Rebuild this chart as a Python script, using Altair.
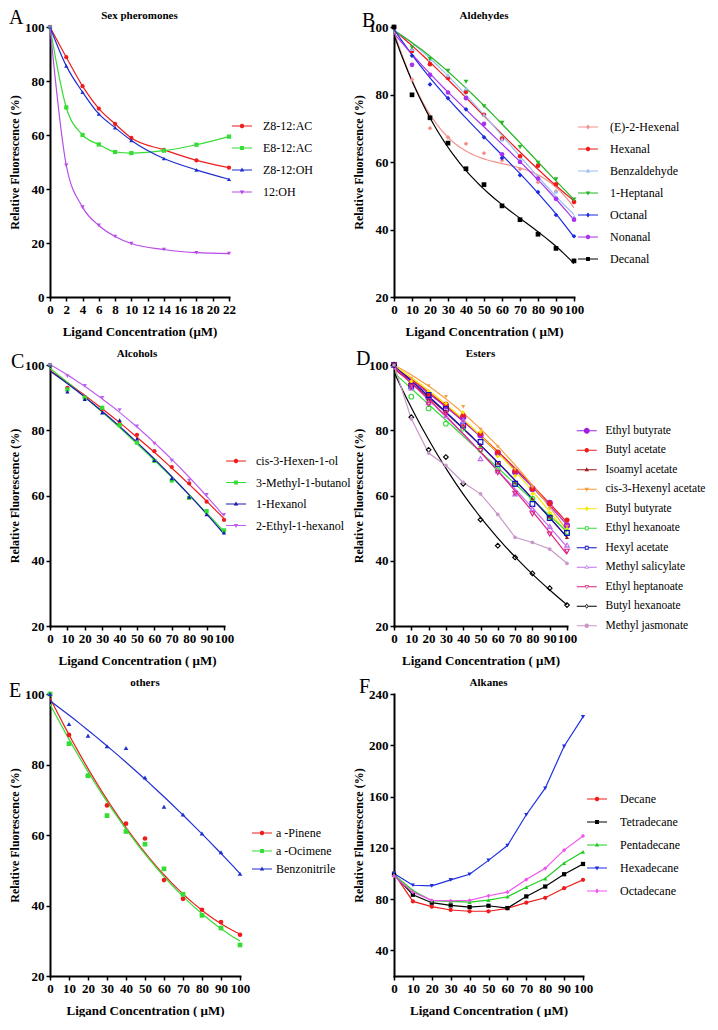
import math
import altair as alt
import pandas as pd

FONT = "Liberation Serif"

# ---------------- data ----------------
X10 = [0, 10, 20, 30, 40, 50, 60, 70, 80, 90, 100]

# A  Sex pheromones
A_X = [0, 2, 4, 6, 8, 10, 14, 18, 22]
A_SERIES = ["Z8-12:AC", "E8-12:AC", "Z8-12:OH", "12:OH"]
A_Z8AC = [100, 88.8, 78.1, 69.8, 64.1, 58.9, 54.5, 50.6, 47.9]
A_E8AC = [100, 70.2, 60.0, 56.5, 53.7, 53.3, 54.2, 56.4, 59.4]
A_Z8OH = [100, 85.6, 75.9, 67.8, 62.7, 58.0, 51.3, 47.1, 43.6]
A_12OH = [100, 48.8, 33.3, 26.5, 22.4, 19.8, 17.6, 16.4, 16.1]
A_VALUES = [A_Z8AC, A_E8AC, A_Z8OH, A_12OH]

# B  Aldehydes
B_SERIES = ["(E)-2-Hexenal", "Hexanal", "Benzaldehyde", "1-Heptanal", "Octanal", "Nonanal", "Decanal"]
B_E2HEXENAL = [100, 84.4, 70.0, 67.3, 65.4, 62.6, 60.5, 57.9, 54.0, 51.3, 48.0]
B_HEXANAL = [100, 92.9, 89.0, 84.9, 80.8, 74.0, 66.9, 61.7, 58.9, 53.4, 48.2]
B_BENZALDEHYDE = [100, 93.5, 90.5, 85.7, 81.8, 74.0, 66.7, 60.7, 55.6, 51.3, 43.8]
B_HEPTANAL = [100, 93.9, 90.5, 87.0, 83.8, 76.5, 71.6, 64.4, 59.8, 54.9, 48.9]
B_OCTANAL = [100, 91.5, 83.0, 78.9, 75.6, 67.3, 61.2, 56.1, 51.1, 44.3, 38.0]
B_NONANAL = [100, 88.8, 85.8, 80.6, 78.9, 71.3, 62.3, 60.0, 55.1, 49.1, 42.9]
B_DECANAL = [100, 79.9, 73.1, 65.6, 58.0, 53.3, 47.0, 42.9, 38.6, 34.4, 30.7]
B_VALUES = [B_E2HEXENAL, B_HEXANAL, B_BENZALDEHYDE, B_HEPTANAL, B_OCTANAL, B_NONANAL, B_DECANAL]

# C  Alcohols
C_SERIES = ["cis-3-Hexen-1-ol", "3-Methyl-1-butanol", " 1-Hexanol", "2-Ethyl-1-hexanol"]
C_HEXENOL = [100, 93.0, 90.0, 86.5, 82.0, 78.6, 73.6, 68.7, 63.7, 58.1, 52.5]
C_METHYLBUTANOL = [100, 92.5, 90.0, 86.9, 81.6, 76.2, 70.6, 64.6, 59.3, 55.2, 49.3]
C_HEXANOL = [100, 91.8, 89.5, 85.4, 83.1, 77.4, 70.8, 65.2, 59.6, 54.2, 48.6]
C_ETHYLHEXANOL = [100, 96.6, 93.6, 89.9, 86.2, 81.2, 75.9, 70.7, 64.6, 60.2, 54.1]
C_VALUES = [C_HEXENOL, C_METHYLBUTANOL, C_HEXANOL, C_ETHYLHEXANOL]

# D  Esters
D_SERIES = ["Ethyl butyrate", "Butyl acetate", "Isoamyl acetate", " cis-3-Hexenyl acetate",
            "Butyl butyrate", "Ethyl hexanoate", "Hexyl acetate", "Methyl salicylate",
            "Ethyl heptanoate", "Butyl hexanoate", "Methyl jasmonate"]
D_ETHYL_BUTYRATE = [100, 94.0, 90.0, 87.5, 84.0, 78.5, 73.0, 67.2, 62.0, 57.7, 50.8]
D_BUTYL_ACETATE = [100, 94.5, 91.0, 88.0, 84.6, 79.0, 73.3, 67.5, 62.1, 57.6, 52.5]
D_ISOAMYL_ACETATE = [100, 92.8, 89.5, 86.0, 81.5, 75.5, 70.0, 64.0, 59.0, 53.5, 47.2]
D_HEXENYL_ACETATE = [100, 95.9, 93.6, 90.3, 87.2, 80.2, 74.9, 68.0, 62.5, 56.0, 50.5]
D_BUTYL_BUTYRATE = [100, 95.0, 92.0, 88.2, 85.5, 79.5, 72.0, 66.0, 60.5, 54.7, 49.7]
D_ETHYL_HEXANOATE = [100, 90.3, 86.7, 82.0, 80.5, 74.0, 68.2, 63.5, 59.0, 53.5, 48.8]
D_HEXYL_ACETATE = [100, 93.5, 90.8, 86.5, 81.5, 76.4, 69.7, 63.6, 57.4, 53.1, 48.5]
D_METHYL_SALICYLATE = [100, 93.0, 88.5, 84.5, 83.0, 71.3, 67.5, 60.5, 56.0, 50.5, 44.8]
D_ETHYL_HEPTANOATE = [100, 93.5, 88.0, 85.1, 81.0, 73.8, 67.0, 60.7, 54.4, 48.2, 42.9]
D_BUTYL_HEXANOATE = [100, 84.0, 74.0, 71.8, 63.6, 52.6, 44.6, 41.0, 36.1, 31.6, 26.4]
D_METHYL_JASMONATE = [100, 83.5, 73.0, 69.2, 64.0, 60.5, 54.2, 47.2, 45.6, 43.6, 39.2]
D_VALUES = [D_ETHYL_BUTYRATE, D_BUTYL_ACETATE, D_ISOAMYL_ACETATE, D_HEXENYL_ACETATE,
            D_BUTYL_BUTYRATE, D_ETHYL_HEXANOATE, D_HEXYL_ACETATE, D_METHYL_SALICYLATE,
            D_ETHYL_HEPTANOATE, D_BUTYL_HEXANOATE, D_METHYL_JASMONATE]

# E  others
E_SERIES = ["a  -Pinene", "a  -Ocimene", "Benzonitrile"]
E_PINENE = [100, 88.4, 76.8, 68.4, 63.2, 59.0, 47.2, 41.9, 38.8, 35.3, 31.7]
E_OCIMENE = [100, 85.9, 76.8, 65.5, 61.0, 57.4, 50.4, 43.2, 37.2, 33.6, 28.8]
E_BENZONITRILE = [100, 91.5, 88.2, 85.2, 84.7, 76.3, 68.0, 65.8, 60.4, 55.1, 49.0]
E_VALUES = [E_PINENE, E_OCIMENE, E_BENZONITRILE]

# F  Alkanes
F_SERIES = ["Decane", "Tetradecane", "Pentadecane", "Hexadecane", "Octadecane"]
F_DECANE = [100, 78.2, 74.1, 71.5, 70.5, 70.5, 72.8, 77.2, 81.0, 88.5, 95.0]
F_TETRADECANE = [99, 83.4, 77.2, 75.1, 73.8, 74.8, 73.0, 82.1, 89.8, 99.4, 107.4]
F_PENTADECANE = [99, 86.7, 78.7, 78.2, 77.7, 79.2, 81.8, 89.3, 96.0, 108.1, 116.9]
F_HEXADECANE = [100, 90.8, 90.3, 95.0, 99.4, 110.2, 121.8, 145.8, 166.5, 199.2, 222.2]
F_OCTADECANE = [98, 85.4, 79.0, 78.7, 79.0, 82.6, 85.4, 95.2, 104.0, 118.2, 129.3]
F_VALUES = [F_DECANE, F_TETRADECANE, F_PENTADECANE, F_HEXADECANE, F_OCTADECANE]

# ---------------- styles ----------------
RED, GREEN, BLUE, BLACK = "#ee1c1c", "#33dd33", "#1f2fd0", "#000000"

A_STYLE = dict(colors=[RED, GREEN, BLUE, "#b84ae8"],
               shapes=["circle", "square", "triangle-up", "triangle-down"],
               hollow=[False] * 4, fits=["mono"] * 4, sizes=[18] * 4)
B_STYLE = dict(colors=["#f4908c", RED, "#9cc0f0", "#22b822", "#1a2be0", "#a733ee", BLACK],
               shapes=["diamond", "circle", "triangle-up", "triangle-down", "diamond", "circle", "square"],
               hollow=[False] * 7, fits=["p3"] * 7, sizes=[22] * 7)
C_STYLE = dict(colors=[RED, GREEN, "#1a1aa8", "#c060f0"],
               shapes=["circle", "square", "triangle-up", "triangle-down"],
               hollow=[False] * 4, fits=["p2"] * 4, sizes=[18] * 4)
D_STYLE = dict(colors=["#a020e0", RED, "#a01818", "#f5a040", "#f5e800", GREEN, "#1010c0",
                       "#c070f0", "#e0207f", BLACK, "#c898c8"],
               shapes=["circle", "circle", "triangle-up", "triangle-down", "diamond", "circle",
                       "square", "triangle-up", "triangle-down", "diamond", "circle"],
               hollow=[False, False, False, False, False, True, True, True, True, True, False],
               fits=["p2"] * 9 + ["p3", "seg"],
               sizes=[40, 26, 18, 16, 18, 22, 22, 22, 22, 22, 14])
E_STYLE = dict(colors=[RED, GREEN, BLUE],
               shapes=["circle", "square", "triangle-up"],
               hollow=[False] * 3, fits=["p2"] * 3, sizes=[22] * 3)
F_STYLE = dict(colors=[RED, BLACK, "#22cc22", "#1f2fe0", "#ee55ee"],
               shapes=["circle", "square", "triangle-up", "triangle-down", "diamond"],
               hollow=[False] * 5, fits=["seg"] * 5, sizes=[18] * 5)


# ---------------- legend glyphs (line + marker) ----------------
def _poly(pts, positive=True):
    n = len(pts)
    a = sum(pts[i][0] * pts[(i + 1) % n][1] - pts[(i + 1) % n][0] * pts[i][1] for i in range(n))
    if (a > 0) != positive:
        pts = pts[::-1]
    return "M" + "L".join(f"{x:.3f},{y:.3f}" for x, y in pts) + "Z"


def _outline(kind, r):
    if kind == "circle":
        return [(r * math.cos(2 * math.pi * k / 14), r * math.sin(2 * math.pi * k / 14)) for k in range(14)]
    if kind == "square":
        s = 0.85 * r
        return [(-s, -s), (s, -s), (s, s), (-s, s)]
    if kind == "triangle-up":
        return [(0, -1.1 * r), (r, 0.7 * r), (-r, 0.7 * r)]
    if kind == "triangle-down":
        return [(0, 1.1 * r), (r, -0.7 * r), (-r, -0.7 * r)]
    return [(0, -1.15 * r), (0.85 * r, 0), (0, 1.15 * r), (-0.85 * r, 0)]


HALF = {"circle": 1.0, "square": 0.85, "triangle-up": 0.611, "triangle-down": 0.611, "diamond": 0.85}


def glyph(kind, hollow, r=0.45, t=0.2, w=0.12, L=2.0):
    outer = _outline(kind, r)
    if not hollow:
        return _poly([(-L, -w), (L, -w), (L, w), (-L, w)]) + _poly(outer)
    k = (r - t) / r
    inner = [(x * k, y * k) for x, y in outer]
    g = HALF[kind] * r * (1 - 0.5 * (1 - k))
    return (_poly([(-L, -w), (-g, -w), (-g, w), (-L, w)]) + _poly([(g, -w), (L, -w), (L, w), (g, w)])
            + _poly(outer) + _poly(inner, positive=False))


# ---------------- panel builder ----------------
def panel(letter, title, xs, series, values, style, xdom, xticks, ydom, yticks, xtitle,
          width, height, leg, letter_pos):
    rows = [{"x": x, "y": v, "s": s} for s, vals in zip(series, values) for x, v in zip(xs, vals)]
    df = pd.DataFrame(rows)
    X = alt.X("x:Q", scale=alt.Scale(domain=xdom, nice=False, zero=False),
              axis=alt.Axis(values=xticks, title=xtitle, titlePadding=9, labelFlush=False,
                            labelOverlap=False))
    Y = alt.Y("y:Q", scale=alt.Scale(domain=ydom, nice=False, zero=False),
              axis=alt.Axis(values=yticks, title="Relative Fluorescence (%)", titlePadding=3,
                            titleFontSize=12, labelOverlap=False))
    layers = []
    for s, c, fit in zip(series, style["colors"], style["fits"]):
        base = alt.Chart(df).transform_filter(alt.datum.s == s)
        if fit.startswith("p"):
            base = base.transform_regression("x", "y", method="poly", order=int(fit[1]),
                                             extent=[xdom[0], xdom[1]])
            mk = base.mark_line(color=c, strokeWidth=1.2, clip=True)
        elif fit == "mono":
            mk = base.mark_line(color=c, strokeWidth=1.2, interpolate="monotone", clip=True)
        else:
            mk = base.mark_line(color=c, strokeWidth=1.2, clip=True)
        layers.append(mk.encode(x=X, y=Y))
    for s, c, sh, h, sz in zip(series, style["colors"], style["shapes"], style["hollow"], style["sizes"]):
        layers.append(
            alt.Chart(df).transform_filter(alt.datum.s == s)
            .mark_point(shape=sh, filled=not h, color=c, size=sz, opacity=1, strokeWidth=1.1)
            .encode(x=X, y=Y)
        )
    glyphs = [glyph(sh, h, r=(0.6 if sz >= 40 else 0.45))
              for sh, h, sz in zip(style["shapes"], style["hollow"], style["sizes"])]
    legend = alt.Legend(title=None, orient="none", legendX=leg[0], legendY=leg[1],
                        labelOffset=leg[2], rowPadding=leg[3], labelFontSize=leg[4],
                        labelFont=FONT, labelColor="black", symbolSize=100,
                        symbolStrokeWidth=0, padding=0, labelLimit=300)
    carrier = (
        alt.Chart(df).transform_filter("datum.x < -999")
        .mark_point(filled=True, opacity=1, size=100)
        .encode(
            x=X, y=Y,
            color=alt.Color("s:N", scale=alt.Scale(domain=series, range=style["colors"]), legend=legend),
            shape=alt.Shape("s:N", scale=alt.Scale(domain=series, range=glyphs), legend=legend),
        )
    )
    labels = pd.DataFrame({"t": [letter, title]})
    lt = (
        alt.Chart(labels).transform_filter(alt.datum.t == letter)
        .mark_text(font=FONT, fontSize=20, align="left", baseline="alphabetic", color="black")
        .encode(text="t:N", x=alt.value(letter_pos[0]), y=alt.value(letter_pos[1]))
    )
    tt = (
        alt.Chart(labels).transform_filter(alt.datum.t == title)
        .mark_text(font=FONT, fontSize=11, fontWeight="bold", align="center",
                   baseline="alphabetic", color="black")
        .encode(text="t:N", x=alt.value(width / 2), y=alt.value(-8))
    )
    return alt.layer(*layers, carrier, lt, tt).properties(width=width, height=height)


YT = [20, 40, 60, 80, 100]
XT = X10
XTITLE = "Ligand Concentration ( \u03bcM)"

pA = panel("A", "Sex pheromones", A_X, A_SERIES, A_VALUES, A_STYLE, [0, 22], list(range(0, 23, 2)),
           [0, 100], [0, 20, 40, 60, 80, 100], "Ligand Concentration (\u03bcM)", 179, 270,
           (186, 93, 15, 10, 12), (-41, -3))
pB = panel("B", "Aldehydes", X10, B_SERIES, B_VALUES, B_STYLE, [0, 100], XT, [20, 100], YT, XTITLE,
           180, 270, (188, 94, 16, 10, 12), (-32, 0))
pC = panel("C", "Alcohols", X10, C_SERIES, C_VALUES, C_STYLE, [0, 100], XT, [20, 100], YT, XTITLE,
           174, 261, (180, 90, 14, 9.5, 12), (-39, 3))
pD = panel("D", "Esters", X10, D_SERIES, D_VALUES, D_STYLE, [0, 100], XT, [20, 100], YT, XTITLE,
           173, 261, (187, 60, 13, 6.5, 11.5), (-38, 0))
pE = panel("E", "others", X10, E_SERIES, E_VALUES, E_STYLE, [0, 100], XT, [20, 100], YT, XTITLE,
           190, 282, (206, 133, 8, 6, 12), (-41, 3))
pF = panel("F", "Alkanes", X10, F_SERIES, F_VALUES, F_STYLE, [0, 100], XT, [20, 240],
           [40, 80, 120, 160, 200, 240], XTITLE, 189, 282, (197, 99, 17, 11, 12), (-35, -1))

res = dict(color="independent", shape="independent")

chart = (
    alt.concat(pA, pB, pC, pD, pE, pF, columns=2, spacing={"row": 68, "column": 154},
               bounds="flush")
    .resolve_scale(**res)
    .properties(padding=0)
    .configure_view(stroke=None)
    .configure_axis(domainColor="black", domainWidth=2, domainCap="square", tickColor="black",
                    tickWidth=1.5, tickSize=4, labelFont=FONT, labelFontSize=13,
                    labelFontWeight="bold", labelColor="black", labelPadding=2, titleFont=FONT,
                    titleFontSize=13, titleFontWeight="bold", titleColor="black", grid=False)
)

chart.save("out.html", embed_options={"renderer": "svg", "actions": False})
